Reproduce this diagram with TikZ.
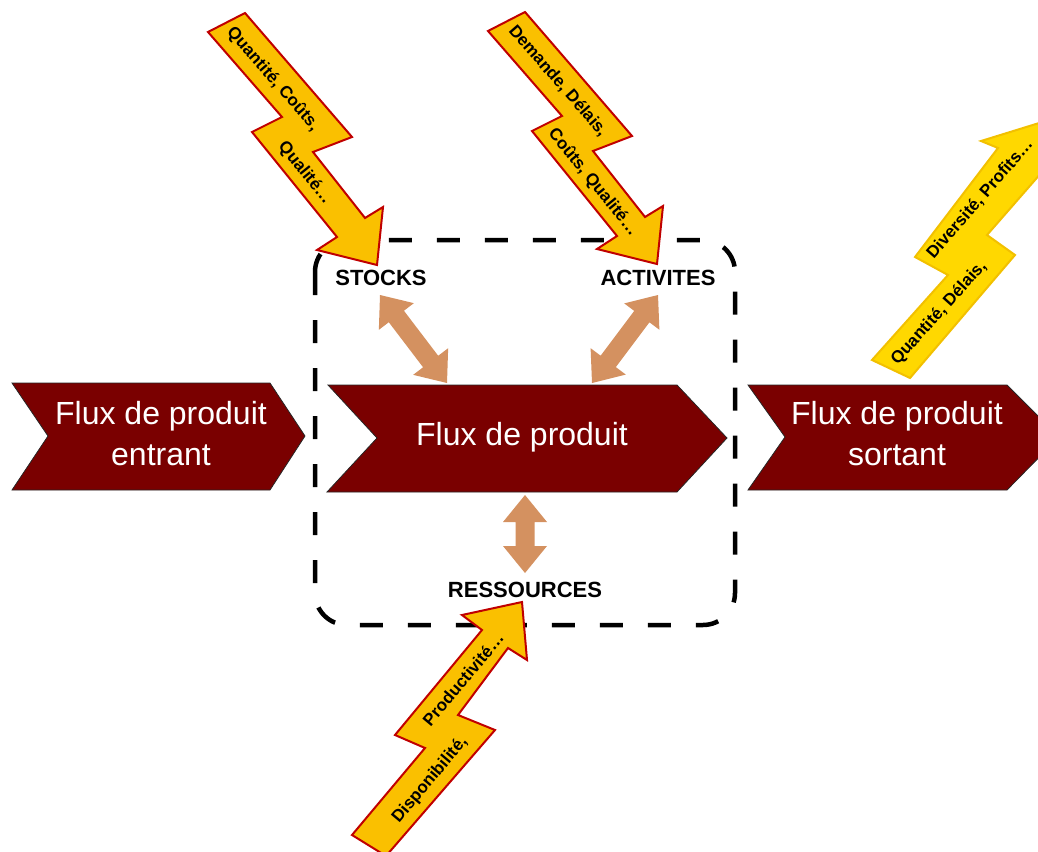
\documentclass[tikz,border=0pt]{standalone}
\usepackage{fontspec}
\setmainfont{Liberation Sans}
\usetikzlibrary{calc}
\definecolor{chevred}{RGB}{122,0,0}
\definecolor{linktan}{RGB}{212,145,96}
\definecolor{boltfill}{RGB}{250,192,0}
\definecolor{boltline}{RGB}{192,0,0}
\definecolor{goldfill}{RGB}{255,216,0}
\definecolor{goldline}{RGB}{242,192,0}
\tikzset{
  chevron/.style={fill=chevred, draw=black!85, line width=0.8pt},
  chevtext/.style={text=white, font=\fontsize{32}{41}\selectfont, align=center, inner sep=0pt},
  bolt/.style={fill=boltfill, draw=boltline, line width=2pt, line join=miter},
  goldbolt/.style={fill=goldfill, draw=goldline, line width=2pt, line join=miter},
  bolttext/.style={font=\bfseries\fontsize{17}{19}\selectfont, inner sep=0pt},
  labeltext/.style={font=\bfseries\fontsize{22}{26}\selectfont, inner sep=0pt},
  frame/.style={draw=black, line width=4.5pt, dash pattern=on 23pt off 25pt, rounded corners=32pt},
  link/.style={fill=linktan},
}
\newcommand\dblarr[2]{%
  \coordinate (#1-h) at ($(#1)!27pt!(#2)$);
  \coordinate (#2-h) at ($(#2)!27pt!(#1)$);
  \fill[link] (#1) -- ($(#1-h)!22pt!90:(#2)$) -- ($(#1-h)!9.5pt!90:(#2)$)
    -- ($(#2-h)!9.5pt!-90:(#1)$) -- ($(#2-h)!22pt!-90:(#1)$) -- (#2)
    -- ($(#2-h)!22pt!90:(#1)$) -- ($(#2-h)!9.5pt!90:(#1)$)
    -- ($(#1-h)!9.5pt!-90:(#2)$) -- ($(#1-h)!22pt!-90:(#2)$) -- cycle;
}
\begin{document}
\begin{tikzpicture}[x=1pt, y=-1pt]
\useasboundingbox (0,0) rectangle (1038,851);

% dashed frame
\draw[frame] (315,240) rectangle (735,625);

% chevrons
\draw[chevron] (12,383) -- (270,383) -- (305,436) -- (270,490) -- (12,490) -- (48,436) -- cycle;
\draw[chevron] (328,385) -- (677,385) -- (727,438) -- (677,492) -- (327,492) -- (377,438) -- cycle;
\draw[chevron] (748,385) -- (1007,385) -- (1059,437) -- (1007,490) -- (748,490) -- (785,437) -- cycle;
\node[chevtext] (fin) at (161,434) {Flux de produit\\entrant};
\node[chevtext, anchor=base] (fmid) at (522,445) {Flux de produit};
\node[chevtext] (fout) at (897,434) {Flux de produit\\sortant};

% labels
\node[labeltext] (stocks) at (381,278) {STOCKS};
\node[labeltext] (activ) at (658,278) {ACTIVITES};
\node[labeltext] (ress) at (525,590) {RESSOURCES};

% double arrows
\coordinate (st) at (380,295);
\coordinate (sb) at (447,383);
\coordinate (at) at (658,295);
\coordinate (ab) at (592,383);
\coordinate (rt) at (525,495);
\coordinate (rb) at (525,573);
\dblarr{st}{sb}
\dblarr{at}{ab}
\dblarr{rt}{rb}

% bolt 1 (stocks)
\draw[bolt] (208,32) -- (245,13) -- (352,137) -- (313,152) -- (365,218) -- (383,207)
  -- (377,265) -- (317,250) -- (337,237) -- (252,132) -- (282,117) -- cycle;
\node[bolttext, rotate=-49] (b1a) at (273,79) {Quantité, Coûts,};
\node[bolttext, rotate=-51] (b1b) at (305,173) {Qualité…};

% bolt 2 (activites)
\begin{scope}[shift={(280,-1)}]
\draw[bolt] (208,32) -- (245,13) -- (352,137) -- (313,152) -- (365,218) -- (383,207)
  -- (377,265) -- (317,250) -- (337,237) -- (252,132) -- (282,117) -- cycle;
\end{scope}
\node[bolttext, rotate=-49] (b2a) at (558,81) {Demande, Délais,};
\node[bolttext, rotate=-51] (b2b) at (593,182) {Coûts, Qualité…};

% bolt 3 (ressources)
\draw[bolt] (352,835) -- (425,748) -- (395,735) -- (482,630) -- (462,615) -- (522,602)
  -- (527,660) -- (508,648) -- (458,715) -- (495,730) -- (386,856) -- cycle;
\node[bolttext, rotate=50] (b3a) at (430,780) {Disponibilité,};
\node[bolttext, rotate=50] (b3b) at (463,679) {Productivité…};

% bolt 4 (sortie)
\draw[goldbolt] (872,360) -- (948,275) -- (915,257) -- (998,148) -- (981,141) -- (1065,115)
  -- (1062,200) -- (1042,172) -- (987,235) -- (1015,255) -- (910,378) -- cycle;
\node[bolttext, rotate=49] (b4a) at (980,199) {Diversité, Profits…};
\node[bolttext, rotate=48] (b4b) at (939,313) {Quantité, Délais,};
\end{tikzpicture}
\end{document}
